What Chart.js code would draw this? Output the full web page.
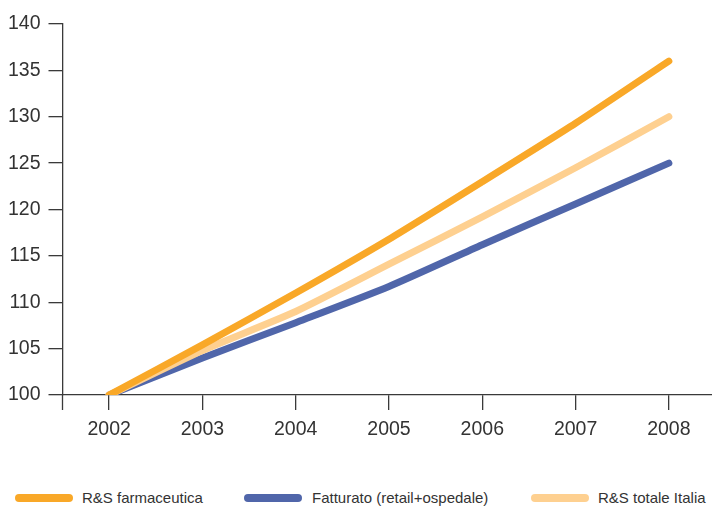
<!DOCTYPE html>
<html>
<head>
<meta charset="utf-8">
<script src="https://cdn.jsdelivr.net/npm/chart.js@4"></script>
<style>
  html, body { margin: 0; padding: 0; background: #fff; width: 712px; height: 508px; overflow: hidden; }
  #wrap { position: absolute; left: 0; top: 0; width: 720px; height: 460px; }
  #legend { position: absolute; left: 0; top: 488px; width: 712px; height: 20px; font-family: "Liberation Sans", Arial, sans-serif; font-size: 15px; color: #333; }
  .item { position: absolute; top: 0; height: 20px; line-height: 20px; white-space: nowrap; }
  .sw { position: absolute; top: 6px; width: 58px; height: 8px; border-radius: 4px; }
  .tx { position: absolute; top: 0; }
</style>
</head>
<body>
<div id="wrap"><canvas id="c" width="720" height="460"></canvas></div>
<div id="legend"></div>
<script>
const years = ["2002", "2003", "2004", "2005", "2006", "2007", "2008"];
const rsFarmaceutica = [100, 105.4, 111.0, 116.8, 123.0, 129.3, 136.0];
const fatturato = [100, 104.0, 107.8, 111.7, 116.2, 120.6, 125.0];
const rsTotaleItalia = [100, 104.8, 109.0, 114.1, 119.2, 124.5, 130.0];
const seriesNames = ["R&S farmaceutica", "Fatturato (retail+ospedale)", "R&S totale Italia"];
const seriesColors = ["#F9A828", "#5066AA", "#FED090"];
const yTicks = [100, 105, 110, 115, 120, 125, 130, 135, 140];

const axisColor = "#3a3a3a";
const tickFont = { family: "Liberation Sans", size: 19.5 };

const extendAxis = {
  id: "extendAxis",
  afterDraw(chart) {
    const ctx = chart.ctx, a = chart.chartArea;
    ctx.save();
    ctx.strokeStyle = axisColor;
    ctx.lineWidth = 1.3;
    ctx.beginPath();
    ctx.moveTo(a.left, a.bottom);
    ctx.lineTo(a.left, a.bottom + 15);
    ctx.stroke();
    ctx.restore();
  }
};

const ds = (label, data, color, order) => ({
  label, data, borderColor: color, backgroundColor: color,
  borderWidth: 7, pointRadius: 0, tension: 0.2,
  borderCapStyle: "round", borderJoinStyle: "round", order, fill: false
});

new Chart(document.getElementById("c"), {
  type: "line",
  data: {
    labels: years,
    datasets: [
      ds(seriesNames[0], rsFarmaceutica, seriesColors[0], 0),
      ds(seriesNames[1], fatturato, seriesColors[1], 2),
      ds(seriesNames[2], rsTotaleItalia, seriesColors[2], 1)
    ]
  },
  options: {
    responsive: false,
    animation: false,
    events: [],
    layout: { padding: { top: 24, right: 4.5, bottom: 0, left: 0 } },
    plugins: { legend: { display: false }, tooltip: { enabled: false } },
    scales: {
      x: {
        offset: true,
        afterFit: s => { s.height = 65; },
        grid: { display: true, offset: false, drawOnChartArea: false, drawTicks: true, tickLength: 15, color: axisColor, lineWidth: 1.3 },
        border: { display: true, color: axisColor, width: 1.3 },
        ticks: { color: "#333", font: tickFont, padding: 8, maxRotation: 0 }
      },
      y: {
        min: 100, max: 140,
        afterFit: s => { s.width = 62.5; },
        afterBuildTicks: s => { s.ticks = yTicks.map(v => ({ value: v })); },
        grid: { display: true, drawOnChartArea: false, drawTicks: true, tickLength: 14, color: axisColor, lineWidth: 1.3 },
        border: { display: true, color: axisColor, width: 1.3 },
        ticks: { color: "#333", font: tickFont, padding: 8 }
      }
    }
  },
  plugins: [extendAxis]
});

const legendPos = [{ sw: 15, tx: 82 }, { sw: 244, tx: 312 }, { sw: 531, tx: 598 }];
const legend = document.getElementById("legend");
seriesNames.forEach((name, i) => {
  const it = document.createElement("div");
  it.className = "item";
  it.style.left = "0px";
  const sw = document.createElement("div");
  sw.className = "sw";
  sw.style.left = legendPos[i].sw + "px";
  sw.style.background = seriesColors[i];
  const tx = document.createElement("div");
  tx.className = "tx";
  tx.style.left = legendPos[i].tx + "px";
  tx.textContent = name;
  it.appendChild(sw);
  it.appendChild(tx);
  legend.appendChild(it);
});
</script>
</body>
</html>
